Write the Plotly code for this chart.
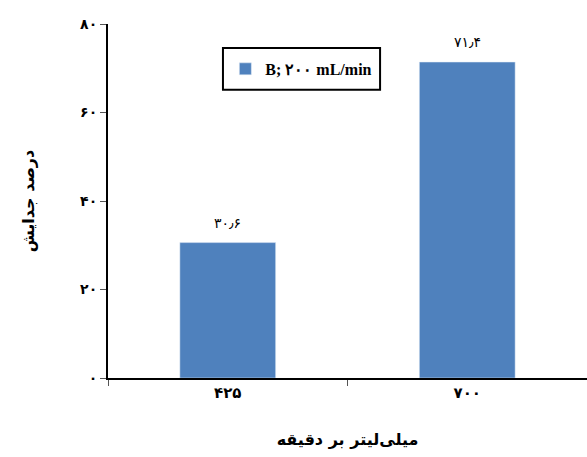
import plotly.graph_objects as go

categories = ["۴۲۵", "۷۰۰"]
values = [30.6, 71.4]
value_labels = ["۳۰٫۶", "۷۱٫۴"]
series_name = "B; ۲۰۰ mL/min"
y_tick_vals = [0, 20, 40, 60, 80]
y_tick_text = ["۰", "۲۰", "۴۰", "۶۰", "۸۰"]
x_title = "میلی‌لیتر بر دقیقه"
y_title = "درصد جدایش"

fig = go.Figure()
fig.add_trace(go.Bar(
    x=categories, y=values, name="<b>" + series_name + "</b>",
    marker=dict(color="#4F81BD"),
    width=0.4,
    showlegend=True,
))
for c, v, t in zip(categories, values, value_labels):
    fig.add_annotation(x=c, y=v, text=t, showarrow=False, yanchor="bottom", yshift=10,
                       font=dict(family="DejaVu Sans", size=14, color="black"))

fig.add_shape(type="rect", xref="paper", yref="paper",
              x0=0.240, x1=0.568, y0=0.814, y1=0.932,
              line=dict(color="black", width=2), fillcolor="rgba(0,0,0,0)")

fig.update_layout(
    width=587, height=457,
    margin=dict(l=108, r=0, t=24, b=79),
    paper_bgcolor="white", plot_bgcolor="white",
    showlegend=True,
    legend=dict(
        x=0.245, y=0.873, xanchor="left", yanchor="middle",
        borderwidth=0,
        font=dict(family="Liberation Serif", size=16, color="black"),
        bgcolor="rgba(0,0,0,0)",
    ),
    xaxis=dict(
        type="category", range=[-0.5, 1.5], automargin=False,
        showline=True, linecolor="black", linewidth=2,
        ticks="outside", tickson="boundaries", ticklen=6, tickcolor="#555",
        tickfont=dict(family="DejaVu Sans", size=15, color="black"),
        title=dict(text="<b>" + x_title + "</b>", font=dict(family="DejaVu Sans", size=16, color="black"), standoff=33),
        showgrid=False,
    ),
    yaxis=dict(
        range=[0, 80], automargin=False,
        tickvals=y_tick_vals, ticktext=["<b>" + t + "</b>" for t in y_tick_text],
        showline=True, linecolor="black", linewidth=2,
        ticks="outside", ticklen=6, tickcolor="#555",
        tickfont=dict(family="DejaVu Sans", size=14, color="black"),
        title=dict(text="<b>" + y_title + "</b>", font=dict(family="DejaVu Sans", size=16, color="black"), standoff=42),
        showgrid=False, zeroline=False,
    ),
)
fig.update_xaxes(ticktext=["<b>" + c + "</b>" for c in categories], tickvals=categories)

fig.write_html("out.html", config={"displayModeBar": False},
               post_script="document.body.style.margin='0';document.body.style.overflow='hidden';")
